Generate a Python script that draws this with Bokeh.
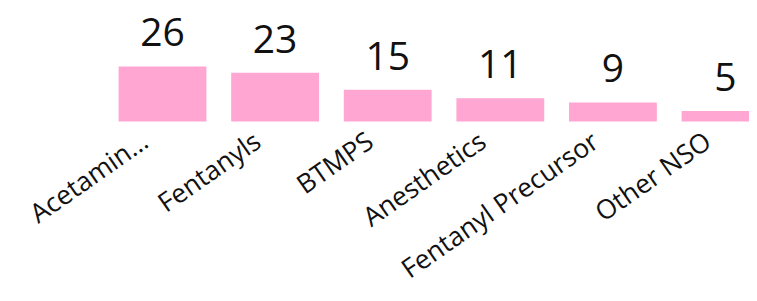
from bokeh.plotting import figure
from bokeh.models import ColumnDataSource, Range1d
from bokeh.core.properties import value
from bokeh.embed import file_html
from bokeh.resources import INLINE
import math

categories = ["Acetamin\u2026", "Fentanyls", "BTMPS", "Anesthetics", "Fentanyl Precursor", "Other NSO"]
counts = [26, 23, 15, 11, 9, 5]

xs = list(range(len(categories)))
src = ColumnDataSource(dict(x=xs, top=counts, label=[str(c) for c in counts], cat=categories))

p = figure(width=749, height=285, output_backend="svg", toolbar_location=None,
           x_range=Range1d(-1.4387, 5.213), y_range=Range1d(-77.36, 57.08),
           min_border=0, min_border_left=0, min_border_right=0, min_border_top=0, min_border_bottom=0)
p.outline_line_color = None
p.axis.visible = False
p.grid.visible = False
p.background_fill_color = "white"
p.border_fill_color = "white"

p.vbar(x="x", top="top", bottom=0, width=0.78, source=src, fill_color="#ffa6d3", line_color=None)

p.text(x="x", y="top", text="label", source=src, text_align="center", text_baseline="alphabetic",
       y_offset=-34, text_font=value("Open Sans"), text_font_size="39px", text_color="#111111")

p.text(x="x", y=0, text="cat", source=src, angle=math.radians(35), text_align="right",
       text_baseline="middle", x_offset=-18, y_offset=16, text_font=value("Open Sans"),
       text_font_size="26.5px", text_color="#111111")

open("out.html", "w").write(file_html(p, INLINE))
